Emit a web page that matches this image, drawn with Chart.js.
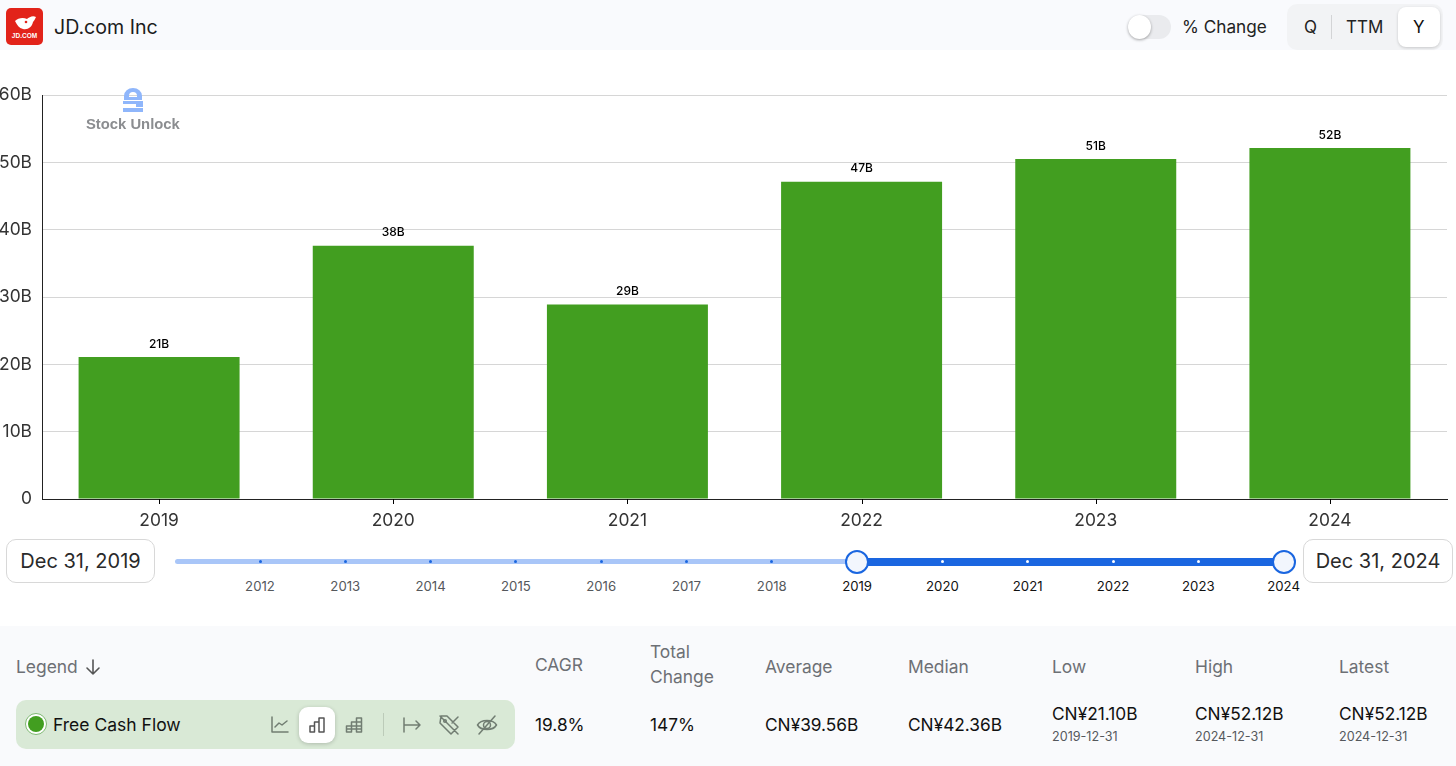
<!DOCTYPE html>
<html>
<head>
<meta charset="utf-8">
<title>JD.com Inc - Free Cash Flow</title>
<script src="https://cdn.jsdelivr.net/npm/chart.js@4"></script>
<style>
  html, body { margin: 0; padding: 0; background: #fff; overflow: hidden; }
  body { width: 1456px; height: 766px; position: relative; font-family: Inter, "Noto Sans", sans-serif; color: #111; }
  .abs { position: absolute; }
  .t { position: absolute; transform: translateY(-50%); white-space: nowrap; line-height: 1.2; }
  .lbl { font-size: 17.4px; color: #6d7075; }
  .val { font-size: 17.3px; color: #111; }
  .sub { font-size: 12.6px; color: #55585c; }
  .yr { position: absolute; top: 586px; transform: translate(-50%, -50%); font-size: 13.2px; }
  .dot { position: absolute; top: 560px; width: 3px; height: 3px; border-radius: 50%; }
  .date { position: absolute; top: 539px; height: 44px; box-sizing: border-box; border: 1px solid #d8d8d8; border-radius: 10px; background: #fff;
          font-size: 20px; color: #2a2a2a; display: flex; align-items: center; justify-content: center; }
  .knob { position: absolute; top: 550px; width: 24px; height: 24px; box-sizing: border-box; border: 2.5px solid #1a66e0; border-radius: 50%; background: #f2f6fd; }
  svg.ic { position: absolute; fill: none; stroke: #717d72; stroke-width: 1.5; stroke-linecap: round; stroke-linejoin: round; }
  #chartWrap { position: absolute; left: 0; top: 50px; width: 1456px; height: 485px; }
</style>
</head>
<body>

<!-- header -->
<div class="abs" style="left:0;top:0;width:1456px;height:50px;background:#f9fafd"></div>
<div class="abs" style="left:6px;top:8px;width:37px;height:37px;border-radius:5px;background:#e2231a"></div>
<svg class="abs" style="left:6px;top:8px" width="37" height="37" viewBox="0 0 37 37">
  <path d="M9 13 C12 10 17 9 21 11 C23 9 27 7 30 9 C29 11 28 13 27 14 C26 19 22 22 17 21 C13 20 11 17 9 13 Z" fill="#fff"/>
  <circle cx="20" cy="14" r="1.3" fill="#e2231a"/>
  <text x="18.5" y="30" text-anchor="middle" font-family="Liberation Sans" font-size="6.5" font-weight="700" fill="#fff">JD.COM</text>
</svg>
<div class="t" style="left:54px;top:28px;font-size:19.6px;color:#1c1c1c">JD.com Inc</div>

<div class="abs" style="left:1128px;top:15px;width:43px;height:24px;border-radius:12px;background:#eaebee"></div>
<div class="abs" style="left:1128px;top:15px;width:23px;height:24px;border-radius:50%;background:#fff;box-shadow:0 1px 3px rgba(0,0,0,.35)"></div>
<div class="t" style="left:1182px;top:27px;font-size:17.2px;color:#222">% Change</div>

<div class="abs" style="left:1287px;top:4px;width:156px;height:46px;border-radius:10px;background:#f2f3f5"></div>
<div class="abs" style="left:1331px;top:15px;width:1px;height:24px;background:#d3d4d6"></div>
<div class="abs" style="left:1398px;top:7px;width:42px;height:40px;border-radius:8px;background:#fff;box-shadow:0 1px 3px rgba(0,0,0,.18)"></div>
<div class="t" style="left:1304px;top:27px;font-size:17px;color:#222">Q</div>
<div class="t" style="left:1346px;top:27px;font-size:17px;color:#222">TTM</div>
<div class="t" style="left:1413px;top:27px;font-size:17px;color:#111">Y</div>

<!-- chart -->
<div id="chartWrap"><canvas id="fcfChart" width="1456" height="485"></canvas></div>

<!-- watermark -->
<svg class="abs" style="left:122px;top:87px" width="22" height="26" viewBox="0 0 22 26">
  <path d="M2 13 V9 A9 8 0 0 1 20 9 V13 H2 Z M7 10 H15 V9 A4 4 0 0 0 7 9 Z" fill="#8fb6fb" fill-rule="evenodd"/>
  <rect x="1" y="14" width="20" height="3" fill="#8fb6fb"/>
  <rect x="14" y="17" width="7" height="3" fill="#8fb6fb"/>
  <rect x="1" y="21" width="20" height="4" fill="#8fb6fb"/>
</svg>
<div class="t" style="left:86px;top:125px;font-family:'Liberation Sans';font-weight:700;font-size:14.8px;color:#8b8d90">Stock Unlock</div>

<!-- date range slider -->
<div class="date" style="left:6px;width:149px">Dec 31, 2019</div>
<div class="date" style="left:1303px;width:150px">Dec 31, 2024</div>
<div class="abs" style="left:175px;top:559px;width:682px;height:5px;border-radius:3px;background:#a9c6f8"></div>
<div class="abs" style="left:857px;top:558px;width:427px;height:8px;background:#1a66e0"></div>
<div id="sliderMarks"></div>
<div class="knob" style="left:845px"></div>
<div class="knob" style="left:1272px"></div>

<!-- legend table -->
<div class="abs" style="left:0;top:626px;width:1456px;height:140px;background:#f9fafc"></div>
<div class="t lbl" style="left:16px;top:667px">Legend</div>
<svg class="abs" style="left:84px;top:657px" width="18" height="20" viewBox="0 0 18 20" fill="none" stroke="#555" stroke-width="1.6" stroke-linecap="round" stroke-linejoin="round">
  <path d="M9 3 V17 M3 11 L9 17 L15 11"/>
</svg>

<div class="abs" style="left:16px;top:700px;width:499px;height:49px;border-radius:10px;background:#d9e9d6"></div>
<div class="abs" style="left:25px;top:713px;width:22px;height:22px;box-sizing:border-box;border-radius:50%;background:#fff;border:1px solid #7fb973"></div>
<div class="abs" style="left:28px;top:716px;width:16px;height:16px;border-radius:50%;background:#429e20"></div>
<div class="t" style="left:53px;top:724px;font-size:17.5px;color:#111">Free Cash Flow</div>

<div class="abs" style="left:299px;top:707px;width:36px;height:36px;border-radius:9px;background:#fff;box-shadow:0 1px 4px rgba(0,0,0,.2)"></div>
<svg class="ic" style="left:270px;top:715px" width="20" height="20" viewBox="0 0 20 20"><path d="M2 2 V17 H18 M5 12 L9 8 L12 10 L17 6"/></svg>
<svg class="ic" style="left:307px;top:715px;stroke:#555" width="20" height="20" viewBox="0 0 20 20"><path d="M3 17 V11 H7.5 V17 Z M7.5 17 V7 H12 V17 M12 17 V3 H17 V17 Z"/></svg>
<svg class="ic" style="left:344px;top:715px" width="20" height="20" viewBox="0 0 20 20"><path d="M2.5 17 V11 H7.5 V17 Z M7.5 17 V7 H12.5 V17 M12.5 17 V3 H17.5 V17 Z M2.5 14 H17.5 M7.5 11 H17.5 M12.5 7 H17.5"/></svg>
<div class="abs" style="left:383px;top:713px;width:1px;height:23px;background:#bccbb9"></div>
<svg class="ic" style="left:402px;top:715px" width="20" height="20" viewBox="0 0 20 20"><path d="M2 3 V17 M2 10 H18 M14 6 L18 10 L14 14"/></svg>
<svg class="ic" style="left:438px;top:714px" width="22" height="22" viewBox="0 0 22 22"><path d="M3 2 H9 L20 13 L13 20 L2 9 Z M2 2 L20 20 M20 3 L14 9"/><circle cx="7" cy="7" r="1.3"/></svg>
<svg class="ic" style="left:476px;top:714px" width="22" height="22" viewBox="0 0 22 22"><path d="M1.5 11 C5 5 17 5 20.5 11 C17 17 5 17 1.5 11 Z M3 20 L19 2"/><circle cx="11" cy="11" r="3.5"/></svg>

<div class="t lbl" style="left:535px;top:665px">CAGR</div>
<div class="t lbl" style="left:650px;top:652px">Total</div>
<div class="t lbl" style="left:650px;top:677px">Change</div>
<div class="t lbl" style="left:765px;top:667px">Average</div>
<div class="t lbl" style="left:908px;top:667px">Median</div>
<div class="t lbl" style="left:1052px;top:667px">Low</div>
<div class="t lbl" style="left:1195px;top:667px">High</div>
<div class="t lbl" style="left:1339px;top:667px">Latest</div>

<div class="t val" style="left:535px;top:725px">19.8%</div>
<div class="t val" style="left:650px;top:725px">147%</div>
<div class="t val" style="left:765px;top:725px">CN¥39.56B</div>
<div class="t val" style="left:908px;top:725px">CN¥42.36B</div>
<div class="t val" style="left:1052px;top:714px">CN¥21.10B</div>
<div class="t sub" style="left:1052px;top:737px">2019-12-31</div>
<div class="t val" style="left:1195px;top:714px">CN¥52.12B</div>
<div class="t sub" style="left:1195px;top:737px">2024-12-31</div>
<div class="t val" style="left:1339px;top:714px">CN¥52.12B</div>
<div class="t sub" style="left:1339px;top:737px">2024-12-31</div>

<script>
const years = ['2019', '2020', '2021', '2022', '2023', '2024'];
const freeCashFlow = [21.1, 37.6, 28.9, 47.1, 50.5, 52.12];
const yTicks = [0, 10, 20, 30, 40, 50, 60];
const sliderYears = ['2012', '2013', '2014', '2015', '2016', '2017', '2018', '2019', '2020', '2021', '2022', '2023', '2024'];

// slider year marks
const marks = document.getElementById('sliderMarks');
sliderYears.forEach((y, i) => {
  const x = 260 + i * 85.3;
  const active = i >= 7;
  const label = document.createElement('div');
  label.className = 'yr';
  label.style.left = x + 'px';
  label.style.color = active ? '#111' : '#55585c';
  label.textContent = y;
  marks.appendChild(label);
  if (i > 7 && i < 12 || i < 7) {
    const dot = document.createElement('div');
    dot.className = 'dot';
    dot.style.left = (x - 1.5) + 'px';
    dot.style.background = active ? '#fff' : '#1a66e0';
    marks.appendChild(dot);
  }
});

// bar value labels and the small ticks under the x axis
const barLabels = {
  id: 'barLabels',
  afterDatasetsDraw(chart) {
    const ctx = chart.ctx;
    const meta = chart.getDatasetMeta(0);
    const bottom = chart.scales.x.top;
    ctx.save();
    ctx.font = '500 12px Inter';
    ctx.fillStyle = '#000';
    ctx.textAlign = 'center';
    ctx.textBaseline = 'middle';
    meta.data.forEach((bar, i) => {
      ctx.fillText(Math.round(freeCashFlow[i]) + 'B', bar.x, bar.y - 13);
      ctx.fillRect(Math.round(bar.x), bottom, 1, 5);
    });
    ctx.restore();
  }
};

new Chart(document.getElementById('fcfChart'), {
  type: 'bar',
  data: {
    labels: years,
    datasets: [{
      label: 'Free Cash Flow',
      data: freeCashFlow,
      backgroundColor: '#429e20',
      borderWidth: 0,
      barPercentage: 0.6875,
      categoryPercentage: 1
    }]
  },
  options: {
    responsive: false,
    animation: false,
    layout: { padding: { top: 45, right: 9, left: 0, bottom: 0 } },
    plugins: { legend: { display: false }, tooltip: { enabled: false } },
    scales: {
      x: {
        grid: { display: false },
        border: { color: '#222', width: 1 },
        ticks: { color: '#333', font: { family: 'Inter', size: 17.4 }, padding: 3, maxRotation: 0 },
        afterFit(scale) { scale.height = 36; }
      },
      y: {
        min: 0,
        max: 60,
        afterBuildTicks(scale) { scale.ticks = yTicks.map((v) => ({ value: v })); },
        grid: { color: '#d6d6d6', drawTicks: false },
        border: { color: '#222', width: 1 },
        ticks: {
          color: '#333',
          font: { family: 'Inter', size: 17.4 },
          padding: 10,
          callback: (v) => (v === 0 ? '0' : v + 'B')
        },
        afterFit(scale) { scale.width = 42; }
      }
    }
  },
  plugins: [barLabels]
});
</script>
</body>
</html>
